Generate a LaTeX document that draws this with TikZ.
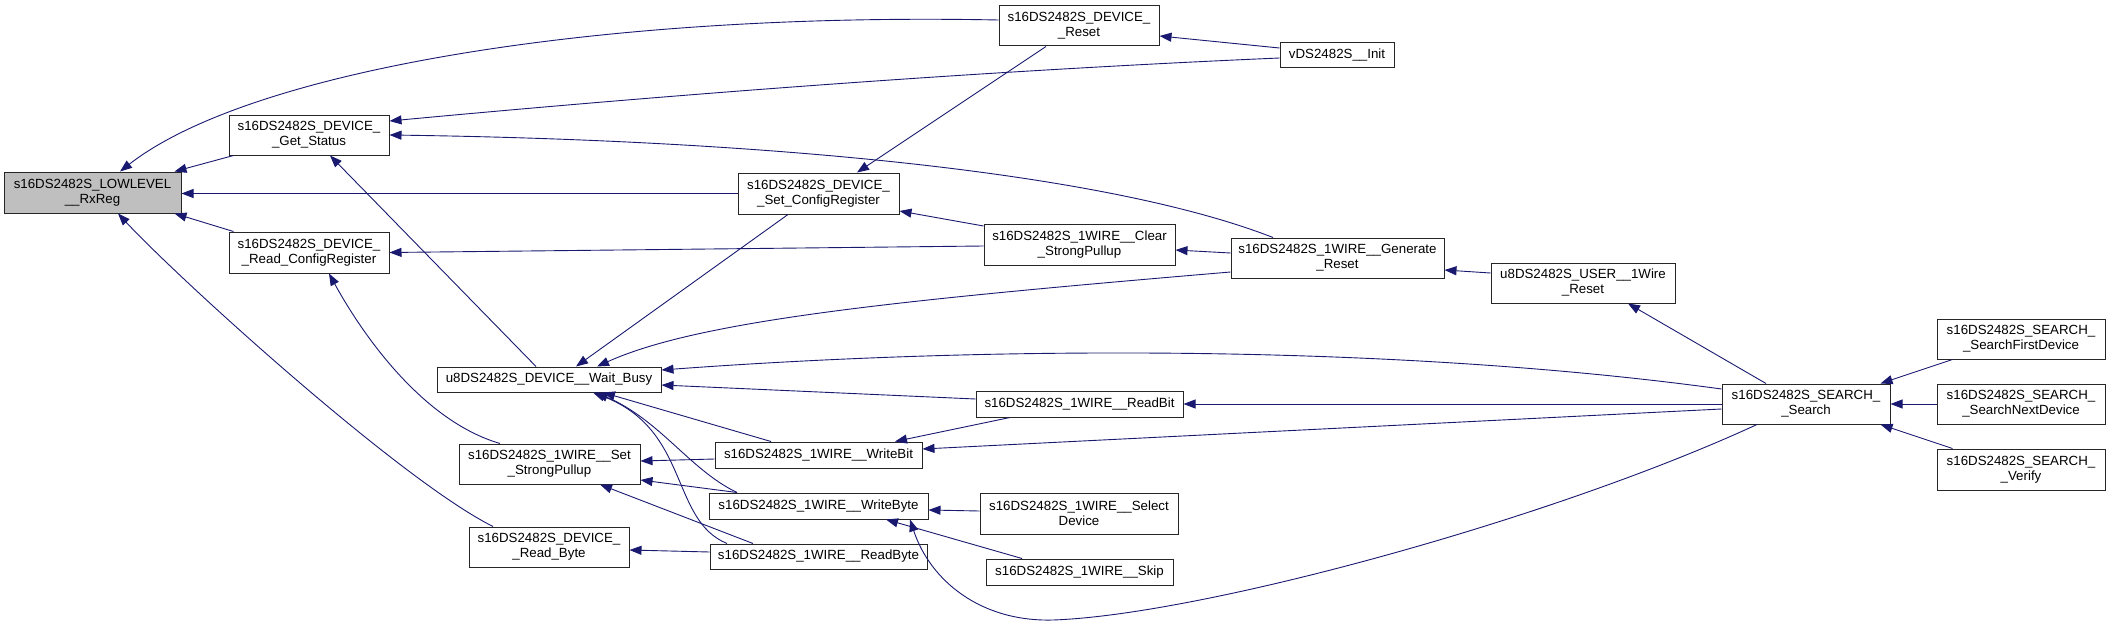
\documentclass[tikz,border=0pt]{standalone}
\usepackage{fontspec}
\setmainfont{Liberation Sans}
\usetikzlibrary{arrows.meta,calc}
\definecolor{edgeblue}{HTML}{191970}
\definecolor{focusgray}{HTML}{BFBFBF}

\begin{document}
\begin{tikzpicture}[x=1pt,y=-1pt]
    \tikzstyle{every node}=[font=\fontsize{13.3}{15}\selectfont]
    \tikzstyle{fn}=[draw=black!85, line width=1pt, fill=white, inner sep=0pt, align=center]
    \tikzstyle{call}=[draw=edgeblue, line width=0.9pt, -{Triangle[length=12pt,width=9pt]}]

      \useasboundingbox (0,0) rectangle (2109,626);

      % column 1
      \node[fn, fill=focusgray, minimum width=177pt, minimum height=41pt] (rxreg) at (92.5,192.5) {s16DS2482S\_LOWLEVEL\\\_\_RxReg};

      % column 2
      \node[fn, minimum width=160pt, minimum height=40pt] (getstatus) at (309,135) {s16DS2482S\_DEVICE\_\\\_Get\_Status};
      \node[fn, minimum width=160pt, minimum height=41pt] (readcfg) at (309,252.5) {s16DS2482S\_DEVICE\_\\\_Read\_ConfigRegister};

      % column 3
      \node[fn, minimum width=224pt, minimum height=25pt] (waitbusy) at (549,379.5) {u8DS2482S\_DEVICE\_\_Wait\_Busy};
      \node[fn, minimum width=181pt, minimum height=40pt] (setpullup) at (549.5,464) {s16DS2482S\_1WIRE\_\_Set\\\_StrongPullup};
      \node[fn, minimum width=160pt, minimum height=40pt] (readbyte) at (549,547) {s16DS2482S\_DEVICE\_\\\_Read\_Byte};

      % column 4
      \node[fn, minimum width=161pt, minimum height=41pt] (setcfg) at (818.5,193.5) {s16DS2482S\_DEVICE\_\\\_Set\_ConfigRegister};
      \node[fn, minimum width=207pt, minimum height=26pt] (owwritebit) at (818.5,455) {s16DS2482S\_1WIRE\_\_WriteBit};
      \node[fn, minimum width=219pt, minimum height=26pt] (owwritebyte) at (818.5,506) {s16DS2482S\_1WIRE\_\_WriteByte};
      \node[fn, minimum width=217pt, minimum height=25pt] (owreadbyte) at (818.5,556.5) {s16DS2482S\_1WIRE\_\_ReadByte};

      % column 5
      \node[fn, minimum width=160pt, minimum height=40pt] (devreset) at (1079,26) {s16DS2482S\_DEVICE\_\\\_Reset};
      \node[fn, minimum width=191pt, minimum height=41pt] (clearpullup) at (1079.5,244.5) {s16DS2482S\_1WIRE\_\_Clear\\\_StrongPullup};
      \node[fn, minimum width=207pt, minimum height=26pt] (owreadbit) at (1079.5,404) {s16DS2482S\_1WIRE\_\_ReadBit};
      \node[fn, minimum width=198pt, minimum height=41pt] (owselect) at (1079,513.5) {s16DS2482S\_1WIRE\_\_Select\\Device};
      \node[fn, minimum width=187pt, minimum height=26pt] (owskip) at (1079.5,572) {s16DS2482S\_1WIRE\_\_Skip};

      % column 6
      \node[fn, minimum width=114pt, minimum height=25pt] (init) at (1337,55.5) {vDS2482S\_\_Init};
      \node[fn, minimum width=213pt, minimum height=40pt] (genreset) at (1337.5,258) {s16DS2482S\_1WIRE\_\_Generate\\\_Reset};

      % column 7
      \node[fn, minimum width=184pt, minimum height=40pt] (userreset) at (1583,283) {u8DS2482S\_USER\_\_1Wire\\\_Reset};

      % column 8
      \node[fn, minimum width=168pt, minimum height=40pt] (search) at (1806,404) {s16DS2482S\_SEARCH\_\\\_Search};

      % column 9
      \node[fn, minimum width=168pt, minimum height=40pt] (firstdev) at (2021,339) {s16DS2482S\_SEARCH\_\\\_SearchFirstDevice};
      \node[fn, minimum width=168pt, minimum height=40pt] (nextdev) at (2021,404) {s16DS2482S\_SEARCH\_\\\_SearchNextDevice};
      \node[fn, minimum width=168pt, minimum height=41pt] (verify) at (2021,469.5) {s16DS2482S\_SEARCH\_\\\_Verify};

      % calls into RxReg
      \draw[call] ([xshift=5pt]getstatus.south west) -- ([xshift=-7pt]rxreg.north east);
      \draw[call] ([xshift=5pt]readcfg.north west) -- ([xshift=-7pt]rxreg.south east);
      \draw[call] (setcfg.west) -- (setcfg.west -| rxreg.east);
      \draw[call] ([yshift=6pt]devreset.west) .. controls (600,12) and (250,70) .. ([xshift=27.5pt]rxreg.north);
      \draw[call] ([xshift=-56pt]readbyte.north) .. controls (400,480) and (180,280) .. ([xshift=25.5pt]rxreg.south);

      % calls into Get_Status
      \draw[call] ([yshift=-2.5pt]init.west) .. controls (1000,70) and (700,92) .. ([yshift=14pt]getstatus.east);
      \draw[call] ([xshift=-64.5pt]genreset.north) .. controls (1100,170) and (750,140) .. (getstatus.east);
      \draw[call] ([xshift=-13pt]waitbusy.north) -- ([xshift=21pt]getstatus.south);

      % calls into Read_ConfigRegister
      \draw[call] ([yshift=-1.5pt]clearpullup.west) -- (readcfg.east);
      \draw[call] ([xshift=-49.5pt]setpullup.north) .. controls (420,420) and (360,330) .. ([xshift=20pt]readcfg.south);

      % calls into Reset and Set_ConfigRegister
      \draw[call] ([yshift=7.5pt]init.west) -- ([yshift=-10pt]devreset.east);
      \draw[call] ([xshift=-33pt]devreset.south) -- ([xshift=38.5pt]setcfg.north);
      \draw[call] ([yshift=18.5pt]clearpullup.west) -- ([yshift=-17.5pt]setcfg.east);

      % calls into Clear_StrongPullup and Generate_Reset
      \draw[call] ([yshift=5pt]genreset.west) -- ([yshift=-5.5pt]clearpullup.east);
      \draw[call] ([yshift=10pt]userreset.west) -- ([yshift=-12pt]genreset.east);

      % calls into Wait_Busy
      \draw[call] ([xshift=-30.5pt]setcfg.south) -- ([xshift=27pt]waitbusy.north);
      \draw[call] ([yshift=-14pt]genreset.west) .. controls (900,300) and (700,320) .. ([xshift=48pt]waitbusy.north);
      \draw[call] ([yshift=15pt]search.west) .. controls (1400,345) and (1000,345) .. ([yshift=9.5pt]waitbusy.east);
      \draw[call] ([yshift=5pt]owreadbit.west) -- ([yshift=-5.5pt]waitbusy.east);
      \draw[call] ([xshift=-47.5pt]owwritebit.north) -- ([xshift=54pt]waitbusy.south);
      \draw[call] ([xshift=-81.5pt]owwritebyte.north) .. controls (690,470) and (660,420) .. ([xshift=47pt]waitbusy.south);
      \draw[call] ([xshift=-91.5pt]owreadbyte.north) .. controls (670,520) and (690,430) .. ([xshift=44pt]waitbusy.south);

      % calls into Set_StrongPullup and Read_Byte
      \draw[call] ([yshift=-4pt]owwritebit.west) -- ([yshift=3pt]setpullup.east);
      \draw[call] ([xshift=-81.5pt]owwritebyte.north) -- ([yshift=-16pt]setpullup.east);
      \draw[call] ([xshift=-65.5pt]owreadbyte.north) -- ([xshift=50.5pt]setpullup.south);
      \draw[call] ([yshift=4.5pt]owreadbyte.west) -- ([yshift=-3pt]readbyte.east);

      % calls into WriteBit, ReadBit, WriteByte
      \draw[call] ([xshift=-69.5pt]owreadbit.south) -- ([xshift=76.5pt]owwritebit.north);
      \draw[call] ([yshift=-5pt]search.west) -- ([yshift=6pt]owwritebit.east);
      \draw[call] (search.west) -- (owreadbit.east);
      \draw[call] ([yshift=2.5pt]owselect.west) -- ([yshift=-4pt]owwritebyte.east);
      \draw[call] ([xshift=-57.5pt]owskip.north) -- ([xshift=67.5pt]owwritebyte.south);
      \coordinate (dip) at (1053,620);
      \draw[call] ([xshift=-49pt]search.south) .. controls (1550,520) and (1200,615) .. (dip)
         .. controls (980,622) and (930,580) .. ([xshift=91.5pt]owwritebyte.south);

      % calls into USER reset and Search
      \draw[call] ([xshift=-40pt]search.north) -- ([xshift=45pt]userreset.south);
      \draw[call] ([xshift=16pt]firstdev.south west) -- ([xshift=-10pt]search.north east);
      \draw[call] (nextdev.west) -- (search.east);
      \draw[call] ([xshift=16pt]verify.north west) -- ([xshift=-10pt]search.south east);

    \end{tikzpicture}
\end{document}
